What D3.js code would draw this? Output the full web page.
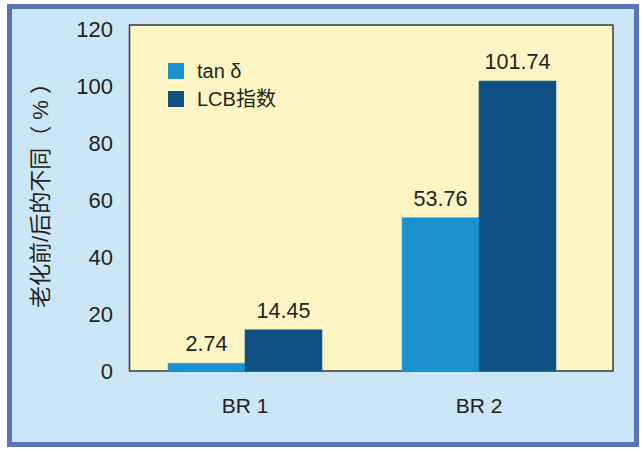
<!DOCTYPE html>
<html><head><meta charset="utf-8">
<script src="https://cdn.jsdelivr.net/npm/d3@7"></script>
<style>
html,body{margin:0;padding:0;background:#fff;}
text{font-family:"Liberation Sans","Noto Sans CJK SC",sans-serif;fill:#231f20;}
</style></head>
<body>
<svg id="c" width="642" height="451"></svg>
<script>
const categories = ["BR 1", "BR 2"];
const seriesNames = ["tan δ", "LCB指数"];
const tanDelta = [2.74, 53.76];
const lcbIndex = [14.45, 101.74];
const yTicks = [0, 20, 40, 60, 80, 100, 120];
const yTitle = "老化前/后的不同（ % ）";
const colors = ["#1b90cf", "#0f5182"];

const svg = d3.select("#c");
// outer background and border
svg.append("rect").attr("x", 9.5).attr("y", 6.5).attr("width", 627).attr("height", 438)
  .attr("fill", "#cbe7f7").attr("stroke", "#5a74b8").attr("stroke-width", 5);

const plot = {left: 129.5, right: 613, top: 25, bottom: 371};
const y = d3.scaleLinear().domain([0, 120]).range([371, 29]);
const x = d3.scaleBand().domain(categories).range([128, 596]).paddingInner(0.342).paddingOuter(0.171);
const xs = d3.scaleBand().domain(seriesNames).range([0, x.bandwidth()]);

svg.append("rect").attr("x", plot.left).attr("y", plot.top)
  .attr("width", plot.right - plot.left).attr("height", plot.bottom - plot.top)
  .attr("fill", "#fdf6c4").attr("stroke", "#3a3a3a").attr("stroke-width", 1.5);

const series = [tanDelta, lcbIndex];
const g = svg.append("g");
categories.forEach((c, ci) => {
  seriesNames.forEach((s, si) => {
    const v = series[si][ci];
    const bx = x(c) + xs(s);
    g.append("rect").attr("x", bx).attr("y", y(v)).attr("width", xs.bandwidth())
      .attr("height", y(0) - y(v)).attr("fill", colors[si])
      .attr("stroke", d3.color(colors[si]).brighter(0.4)).attr("stroke-width", 0.6);
    g.append("text").attr("x", bx + xs.bandwidth() / 2).attr("y", y(v) - 12)
      .attr("text-anchor", "middle").attr("font-size", 21.5).text(v.toFixed(2));
  });
});

// y axis labels
const yAxis = d3.axisLeft(y).tickValues(yTicks).tickSize(0).tickPadding(0);
const ya = svg.append("g").attr("transform", "translate(113,0)").call(yAxis);
ya.select(".domain").remove();
ya.selectAll("text").attr("font-size", 22).attr("font-family", "Liberation Sans, sans-serif").attr("fill", "#231f20").attr("dy", "0.36em");

// x axis labels
const xAxis = d3.axisBottom(x).tickSize(0).tickPadding(0);
const xa = svg.append("g").attr("transform", "translate(0,398)").call(xAxis);
xa.select(".domain").remove();
xa.selectAll("text").attr("font-size", 21).attr("font-family", "Liberation Sans, sans-serif").attr("fill", "#231f20").attr("dy", "0.72em");

// y title
svg.append("text").attr("transform", "translate(48,190) rotate(-90)")
  .attr("text-anchor", "middle").attr("font-size", 22).text(yTitle);

// legend
const lg = svg.append("g");
seriesNames.forEach((s, i) => {
  lg.append("rect").attr("x", 168).attr("y", 63 + i * 28).attr("width", 16).attr("height", 16).attr("fill", colors[i]);
  lg.append("text").attr("x", 197).attr("y", 78 + i * 28).attr("font-size", 20).text(s);
});
</script>
</body></html>
